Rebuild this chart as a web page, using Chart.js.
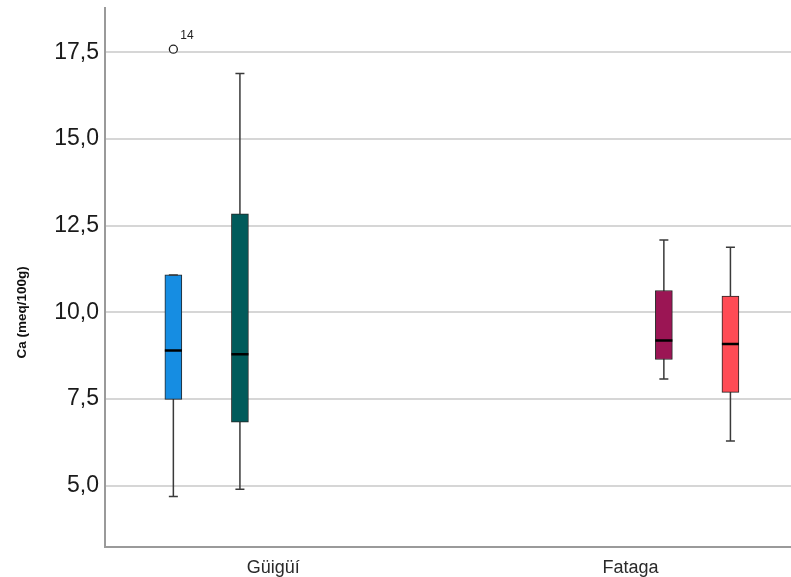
<!DOCTYPE html>
<html>
<head>
<meta charset="utf-8">
<script src="https://cdn.jsdelivr.net/npm/chart.js@4.4.0/dist/chart.umd.min.js"></script>
<style>
  body { margin: 0; background: #fff; overflow: hidden; }
  #wrap { width: 791px; height: 577px; }
  canvas { display: block; }
</style>
</head>
<body>
<div id="wrap"><canvas id="boxChart" width="791" height="577"></canvas></div>
<script>
// categories on the x axis
const sites = ['Güigüí', 'Fataga'];
// each box: which site, which slot in the cluster (0..3), colour
const boxSite = [0, 0, 1, 1];
const boxSlot = [0, 1, 2, 3];
const boxColors = ['#168de2', '#015b5b', '#9b1554', '#ff4b55'];
// five-number summaries
const whiskerLow = [4.69, 4.90, 8.08, 6.29];
const q1 = [7.49, 6.83, 8.64, 7.69];
const median = [8.90, 8.79, 9.19, 9.09];
const q3 = [11.08, 12.84, 10.63, 10.47];
const whiskerHigh = [11.08, 16.89, 12.09, 11.88];
// outliers
const outlierBox = [0];
const outlierValue = [17.59];
const outlierLabel = ['14'];
// y ticks
const yTicks = [5, 7.5, 10, 12.5, 15, 17.5];
const yTitle = 'Ca (meq/100g)';

const slotWidth = 66.5 / 357;          // one slot, in category units
const boxX = i => boxSite[i] + 1 + (boxSlot[i] - 1.5) * slotWidth;
const medHalf = 8.5 / 357;
const capHalf = 4.5 / 357;

const boxData = q1.map((v, i) => ({ x: boxX(i), y: [v, q3[i]] }));

const whiskerData = [];
const capData = [];
const medianData = [];
q1.forEach((_, i) => {
  const x = boxX(i);
  whiskerData.push({ x: x, y: whiskerLow[i] }, { x: x, y: whiskerHigh[i] }, { x: x, y: null });
  capData.push({ x: x - capHalf, y: whiskerLow[i] }, { x: x + capHalf, y: whiskerLow[i] }, { x: x, y: null });
  capData.push({ x: x - capHalf, y: whiskerHigh[i] }, { x: x + capHalf, y: whiskerHigh[i] }, { x: x, y: null });
  medianData.push({ x: x - medHalf, y: median[i] }, { x: x + medHalf, y: median[i] }, { x: x, y: null });
});
const outlierData = outlierValue.map((v, k) => ({ x: boxX(outlierBox[k]), y: v }));

// case numbers next to outliers, and the y title (SPSS puts it a bit low)
const extraText = {
  id: 'extraText',
  afterDatasetsDraw(chart) {
    const meta = chart.getDatasetMeta(4);
    const ctx = chart.ctx;
    ctx.save();
    ctx.font = '12px "Liberation Sans", Arial, sans-serif';
    ctx.fillStyle = '#222';
    ctx.textBaseline = 'middle';
    meta.data.forEach((pt, k) => {
      ctx.fillText(outlierLabel[k], pt.x + 7, pt.y - 14);
    });
    ctx.translate(22, chart.scales.y.getPixelForValue(10));
    ctx.rotate(-Math.PI / 2);
    ctx.textAlign = 'center';
    ctx.font = 'bold 13.5px "Liberation Sans", Arial, sans-serif';
    ctx.fillStyle = '#111';
    ctx.fillText(yTitle, 0, 0);
    ctx.restore();
  }
};

new Chart(document.getElementById('boxChart'), {
  type: 'bar',
  data: {
    datasets: [
      {
        type: 'line', data: whiskerData, borderColor: '#3a3a3a', borderWidth: 1.5,
        pointRadius: 0, spanGaps: false, order: 4
      },
      {
        type: 'bar', data: boxData, backgroundColor: boxColors, borderColor: '#262626',
        borderWidth: 1, borderSkipped: false, barThickness: 17, grouped: false, order: 3
      },
      {
        type: 'line', data: medianData, borderColor: '#000', borderWidth: 2.5,
        pointRadius: 0, spanGaps: false, order: 2
      },
      {
        type: 'line', data: capData, borderColor: '#3a3a3a', borderWidth: 1.5,
        pointRadius: 0, spanGaps: false, order: 2
      },
      {
        type: 'scatter', data: outlierData, pointStyle: 'circle', pointRadius: 4,
        pointBackgroundColor: '#fff', pointBorderColor: '#222', pointBorderWidth: 1.3, order: 1
      }
    ]
  },
  options: {
    responsive: false,
    animation: false,
    layout: { autoPadding: false, padding: { left: 0, right: 0, top: 8, bottom: 0 } },
    plugins: { legend: { display: false }, tooltip: { enabled: false } },
    scales: {
      x: {
        type: 'linear',
        offset: false,
        min: 0.5293,
        max: 2.4489,
        afterBuildTicks: s => { s.ticks = sites.map((_, i) => ({ value: i + 1 })); },
        afterFit: s => { s.height = 30; s.paddingLeft = 0; s.paddingRight = 0; },
        grid: { display: false, drawTicks: false, offset: false },
        border: { display: true, color: '#9a9a9a', width: 2 },
        ticks: {
          callback: v => sites[v - 1],
          font: { family: '"Liberation Sans", Arial, sans-serif', size: 18 },
          color: '#2a2a2a',
          padding: 10,
          maxRotation: 0
        }
      },
      y: {
        min: 3.232,
        max: 18.778,
        afterBuildTicks: s => { s.ticks = yTicks.map(v => ({ value: v })); },
        afterFit: s => { s.width = 105; s.paddingTop = 0; s.paddingBottom = 0; },
        grid: { color: '#d6d6d6', lineWidth: 2, drawTicks: false },
        border: { display: true, color: '#9a9a9a', width: 2 },
        ticks: {
          callback: v => v.toFixed(1).replace('.', ','),
          font: { family: '"Liberation Sans", Arial, sans-serif', size: 23 },
          color: '#1a1a1a',
          padding: 6
        },
        title: { display: false }
      }
    }
  },
  plugins: [extraText]
});
</script>
</body>
</html>
